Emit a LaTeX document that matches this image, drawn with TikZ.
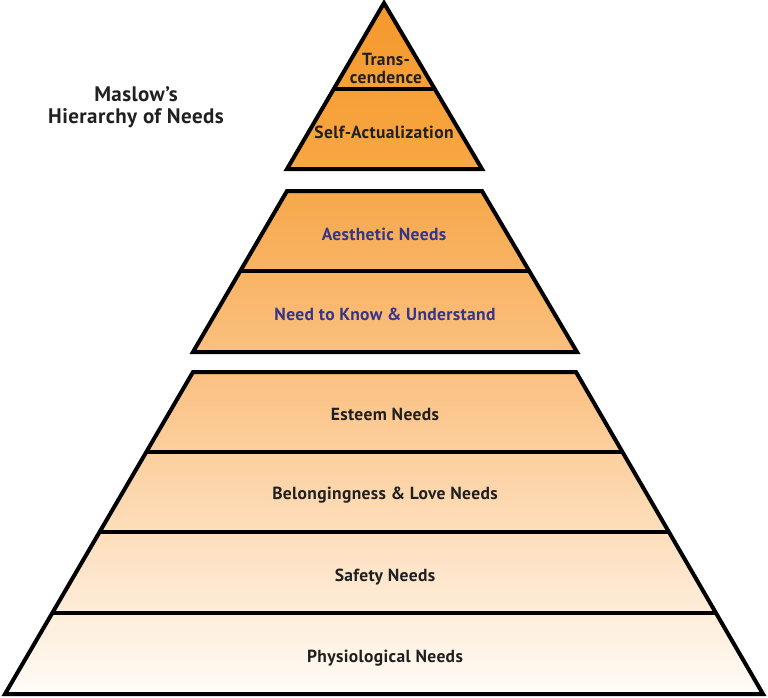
\documentclass[tikz,border=0pt]{standalone}
\usepackage{fontspec}
\setmainfont{PT Sans}[LetterSpace=2]
\definecolor{tA}{HTML}{F4982C}
\definecolor{tB}{HTML}{F8A743}
\definecolor{mA}{HTML}{F6A84B}
\definecolor{mB}{HTML}{FBC07E}
\definecolor{bA}{HTML}{FBC080}
\definecolor{bB}{HTML}{FFFCF8}
\definecolor{navy}{HTML}{35358A}
\definecolor{ink}{HTML}{202020}
\begin{document}
\begin{tikzpicture}[x=1pt,y=-1pt,
  edge/.style={draw=black,line width=4pt,line join=miter},
  divider/.style={draw=black,line width=4pt},
  lbl/.style={font=\fontsize{17.5}{18}\selectfont\bfseries,text=ink,inner sep=0pt,align=center},
  lblblue/.style={lbl,text=navy},
  ttl/.style={font=\fontsize{21}{22}\selectfont\bfseries,text=ink,inner sep=0pt,align=center}]
\useasboundingbox (0,0) rectangle (768,698);
% top triangle
\path[top color=tA,bottom color=tB] (384,3) -- (482,169) -- (287,169) -- cycle;
\draw[divider] (335,89) -- (433,89);
\draw[edge] (384,3) -- (482,169) -- (287,169) -- cycle;
% middle trapezoid
\path[top color=mA,bottom color=mB] (287,191) -- (482,191) -- (577,352) -- (193,352) -- cycle;
\draw[divider] (241,271) -- (528,271);
\draw[edge] (287,191) -- (482,191) -- (577,352) -- (193,352) -- cycle;
% bottom trapezoid
\path[top color=bA,bottom color=bB] (193,372) -- (576,372) -- (763,694) -- (5,694) -- cycle;
\draw[divider] (147,452) -- (622,452);
\draw[divider] (100,532) -- (669,532);
\draw[divider] (53,613) -- (716,613);
\draw[edge] (193,372) -- (576,372) -- (763,694) -- (5,694) -- cycle;
% labels
\node[lbl] (trans) at (386,68) {Trans-\\cendence};
\node[lbl] (self) at (384,132) {Self-Actualization};
\node[lblblue] (aes) at (384,234) {Aesthetic Needs};
\node[lblblue] (know) at (385,314) {Need to Know \& Understand};
\node[lbl] (est) at (385,414) {Esteem Needs};
\node[lbl] (bel) at (385,495) {Belongingness \& Love Needs};
\node[lbl] (saf) at (385,577) {Safety Needs};
\node[lbl] (phy) at (385,658) {Physiological Needs};
\node[ttl] (title) at (136,107) {Maslow’s\\Hierarchy of Needs};
\end{tikzpicture}
\end{document}
